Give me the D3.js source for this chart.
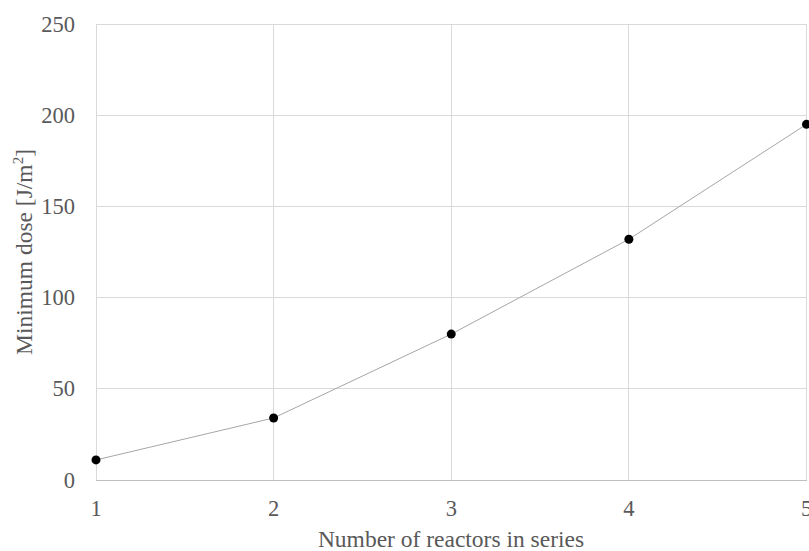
<!DOCTYPE html>
<html><head><meta charset="utf-8">
<script src="https://cdn.jsdelivr.net/npm/d3@7"></script>
<style>body{margin:0;background:#fff}svg{display:block}</style>
</head><body><svg id="c" width="809" height="551"></svg>
<script>
const reactors = [1, 2, 3, 4, 5];
const doses = [11, 34, 80, 132, 195];
const yTicks = [0, 50, 100, 150, 200, 250];

const svg = d3.select("#c");
const x = d3.scaleLinear().domain([1, 5]).range([96, 806.5]);
const y = d3.scaleLinear().domain([0, 250]).range([480, 24]);
const font = "'Liberation Serif','Times New Roman',serif";

// horizontal gridlines
svg.append("g").selectAll("line").data(yTicks.filter(d => d > 0)).join("line")
  .attr("x1", x(1)).attr("x2", x(5)).attr("y1", d => y(d)).attr("y2", d => y(d))
  .attr("stroke", "#d9d9d9").attr("stroke-width", 1).attr("shape-rendering", "crispEdges");
// vertical gridlines
svg.append("g").selectAll("line").data(reactors).join("line")
  .attr("x1", d => x(d)).attr("x2", d => x(d)).attr("y1", y(250)).attr("y2", y(0))
  .attr("stroke", "#d9d9d9").attr("stroke-width", 1).attr("shape-rendering", "crispEdges");
// bottom axis line
svg.append("line").attr("x1", x(1)).attr("x2", x(5)).attr("y1", y(0)).attr("y2", y(0))
  .attr("stroke", "#bfbfbf").attr("stroke-width", 1).attr("shape-rendering", "crispEdges");

// y tick labels
svg.append("g").selectAll("text").data(yTicks).join("text")
  .attr("x", 75).attr("y", d => y(d) + 7.5).attr("text-anchor", "end")
  .attr("font-family", font).attr("font-size", 22.5).attr("fill", "#595959")
  .text(d => d);
// x tick labels
svg.append("g").selectAll("text").data(reactors).join("text")
  .attr("x", d => x(d)).attr("y", 516).attr("text-anchor", "middle")
  .attr("font-family", font).attr("font-size", 22.5).attr("fill", "#595959")
  .text(d => d);

// axis titles
svg.append("text").attr("x", 451).attr("y", 546.5).attr("text-anchor", "middle")
  .attr("font-family", font).attr("font-size", 23.5).attr("fill", "#595959")
  .text("Number of reactors in series");
const yt = svg.append("text").attr("transform", "translate(32,252) rotate(-90)").attr("text-anchor", "middle")
  .attr("font-family", font).attr("font-size", 23.5).attr("fill", "#595959");
yt.append("tspan").text("Minimum dose [J/m");
yt.append("tspan").attr("font-size", 15).attr("dy", -9).text("2");
yt.append("tspan").attr("dy", 9).text("]");

// line
const line = d3.line().x((d, i) => x(reactors[i])).y(d => y(d));
svg.append("path").datum(doses).attr("d", line)
  .attr("fill", "none").attr("stroke", "#a6a6a6").attr("stroke-width", 1);
// points
svg.append("g").selectAll("circle").data(doses).join("circle")
  .attr("cx", (d, i) => x(reactors[i])).attr("cy", d => y(d)).attr("r", 4.5)
  .attr("fill", "#000");
</script></body></html>
